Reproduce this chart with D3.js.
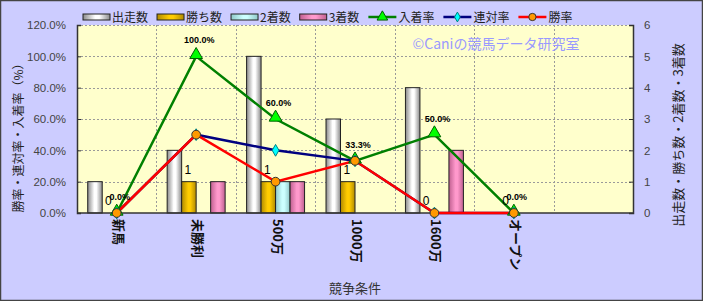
<!DOCTYPE html>
<html>
<head>
<meta charset="utf-8">
<script src="https://cdn.jsdelivr.net/npm/d3@7.9.0/dist/d3.min.js"></script>
<style>
  body { margin: 0; background: #fff; }
  svg { display: block; font-family: "Liberation Sans", "Noto Sans CJK JP", sans-serif; }
</style>
</head>
<body>
<svg id="chart" width="703" height="301"></svg>
<script>
// categories (last one is an empty slot, as in the original sheet)
const categories = ['新馬', '未勝利', '500万', '1000万', '1600万', 'オープン', ''];

// bar series (right axis, counts)
const barNames = ['出走数', '勝ち数', '2着数', '3着数'];
const starts = [1, 2, 5, 3, 4, 0];
const wins = [0, 1, 1, 1, 0, 0];
const seconds = [0, 0, 1, 0, 0, 0];
const thirds = [0, 1, 1, 0, 2, 0];

// line series (left axis, rates)
const lineNames = ['入着率', '連対率', '勝率'];
const showRate = [0, 1.0, 0.6, 0.333, 0.5, 0];
const placeRate = [0, 0.5, 0.4, 0.333, 0, 0];
const winRate = [0, 0.5, 0.2, 0.333, 0, 0];

const leftTicks = [0, 0.2, 0.4, 0.6, 0.8, 1.0, 1.2];
const rightTicks = [0, 1, 2, 3, 4, 5, 6];

const barSeries = [starts, wins, seconds, thirds];
const barStyle = [
  { id: 'gGray', edge: '#8a8a8a', mid: '#ffffff' },
  { id: 'gGold', edge: '#b08a00', mid: '#ffcc00' },
  { id: 'gCyan', edge: '#8fc8c8', mid: '#ccffff' },
  { id: 'gPink', edge: '#c06090', mid: '#ff99cc' }
];
const lineSeries = [showRate, placeRate, winRate];
const lineStyle = [
  { stroke: '#008000', fill: '#00ff00', marker: d3.symbolTriangle, size: 70, mstroke: '#006000' },
  { stroke: '#000080', fill: '#00ffff', marker: d3.symbolDiamond, size: 40, mstroke: '#008080' },
  { stroke: '#ff0000', fill: '#ff9900', marker: d3.symbolCircle, size: 60, mstroke: '#333' }
];

const W = 703, H = 301;
const plot = { left: 77, right: 633, top: 25, bottom: 213 };

const svg = d3.select('#chart');
const defs = svg.append('defs');

barStyle.forEach(s => {
  const g = defs.append('linearGradient').attr('id', s.id).attr('x1', 0).attr('x2', 1).attr('y1', 0).attr('y2', 0);
  g.append('stop').attr('offset', '0%').attr('stop-color', s.edge);
  g.append('stop').attr('offset', '45%').attr('stop-color', s.mid);
  g.append('stop').attr('offset', '60%').attr('stop-color', s.mid);
  g.append('stop').attr('offset', '100%').attr('stop-color', s.edge);
});

// outer background
svg.append('rect').attr('x', 0.5).attr('y', 0.5).attr('width', W - 1).attr('height', H - 1)
  .attr('fill', '#ccccff').attr('stroke', '#444').attr('stroke-width', 1.5);

const x = d3.scaleBand().domain(d3.range(categories.length)).range([plot.left, plot.right]);
const xb = d3.scaleBand().domain(d3.range(barNames.length)).range([0, x.bandwidth()])
  .paddingInner(0).paddingOuter(0.74);
const yL = d3.scaleLinear().domain([0, 1.2]).range([plot.bottom, plot.top]);
const yR = d3.scaleLinear().domain([0, 6]).range([plot.bottom, plot.top]);

// plot area
svg.append('rect').attr('x', plot.left).attr('y', plot.top)
  .attr('width', plot.right - plot.left).attr('height', plot.bottom - plot.top)
  .attr('fill', '#ffffcc');

// grid
const grid = svg.append('g').attr('stroke', '#9a9a9a').attr('stroke-dasharray', '2,2').attr('stroke-width', 1);
grid.selectAll('line.h').data(leftTicks.slice(1)).join('line')
  .attr('x1', plot.left).attr('x2', plot.right)
  .attr('y1', d => Math.round(yL(d)) + 0.5).attr('y2', d => Math.round(yL(d)) + 0.5);
grid.selectAll('line.v').data(d3.range(1, categories.length)).join('line')
  .attr('y1', plot.top).attr('y2', plot.bottom)
  .attr('x1', d => Math.round(x(d)) + 0.5).attr('x2', d => Math.round(x(d)) + 0.5);

// watermark
svg.append('text').attr('x', 496).attr('y', 49).attr('text-anchor', 'middle')
  .attr('fill', '#9999ff').attr('font-size', 14)
  .attr('font-family', '"Noto Sans CJK JP", sans-serif')
  .text('©Caniの競馬データ研究室');

// bars
barSeries.forEach((vals, si) => {
  svg.append('g').selectAll('rect').data(vals).join('rect')
    .attr('x', (d, i) => x(i) + xb(si))
    .attr('width', xb.bandwidth())
    .attr('y', d => yR(d))
    .attr('height', d => plot.bottom - yR(d))
    .attr('fill', `url(#${barStyle[si].id})`)
    .attr('stroke', '#222').attr('stroke-width', 1)
    .style('display', d => d > 0 ? null : 'none');
});

// axes
const axisL = svg.append('g').attr('transform', `translate(${plot.left},0)`)
  .call(d3.axisLeft(yL).tickValues(leftTicks).tickSize(-4).tickPadding(11)
    .tickFormat(d => d3.format('.1%')(d)));
const axisR = svg.append('g').attr('transform', `translate(${plot.right},0)`)
  .call(d3.axisRight(yR).tickValues(rightTicks).tickSize(-4).tickPadding(11).tickFormat(d3.format('d')));
[axisL, axisR].forEach(a => {
  a.select('.domain').attr('stroke', '#333').attr('stroke-width', 1.5);
  a.selectAll('.tick line').attr('stroke', '#333');
  a.selectAll('.tick text').attr('font-size', 11.5).attr('fill', '#444')
    .attr('font-family', '"Liberation Sans", sans-serif');
});
svg.append('line').attr('x1', plot.left).attr('x2', plot.right)
  .attr('y1', plot.bottom).attr('y2', plot.bottom).attr('stroke', '#333').attr('stroke-width', 1.5);

// category labels (rotated)
svg.append('g').selectAll('text').data(categories).join('text')
  .attr('transform', (d, i) => `translate(${x(i) + x.bandwidth() / 2 - 3},${plot.bottom + 6}) rotate(90)`)
  .attr('font-size', 13).attr('font-family', '"Noto Sans CJK JP", sans-serif')
  .attr('font-weight', 'bold').attr('fill', '#111')
  .text(d => d);

// lines
const lineGen = vals => d3.line().x((d, i) => x(i) + x.bandwidth() / 2).y(d => yL(d))(vals);
lineSeries.forEach((vals, si) => {
  const st = lineStyle[si];
  svg.append('path').attr('d', lineGen(vals)).attr('fill', 'none')
    .attr('stroke', st.stroke).attr('stroke-width', 2.5);
});
lineSeries.forEach((vals, si) => {
  const st = lineStyle[si];
  svg.append('g').selectAll('path').data(vals).join('path')
    .attr('transform', (d, i) => `translate(${x(i) + x.bandwidth() / 2},${yL(d) - (si === 0 ? 1.5 : 0)})`)
    .attr('d', d3.symbol().type(st.marker).size(st.size))
    .attr('fill', st.fill).attr('stroke', st.mstroke).attr('stroke-width', 1);
});

// data labels: wins count
svg.append('g').selectAll('text').data(wins).join('text')
  .attr('x', (d, i) => x(i) + xb(1) + xb.bandwidth() / 2 - 1)
  .attr('y', d => yR(d) - 8)
  .attr('text-anchor', 'middle').attr('font-size', 12).attr('fill', '#000')
  .text(d => d);

// data labels: show rate
svg.append('g').selectAll('text').data(showRate).join('text')
  .attr('x', (d, i) => x(i) + x.bandwidth() / 2 + 3)
  .attr('y', d => yL(d) - 13)
  .attr('text-anchor', 'middle').attr('font-size', 9).attr('font-weight', 'bold').attr('fill', '#000')
  .text(d => d3.format('.1%')(d));

// axis titles
svg.append('text').attr('transform', `translate(23,${(plot.top + plot.bottom) / 2 + 16}) rotate(-90)`)
  .attr('text-anchor', 'middle').attr('font-size', 12).attr('fill', '#222')
  .attr('font-family', '"Noto Sans CJK JP", sans-serif')
  .text('勝率・連対率・入着率（%）');
svg.append('text').attr('transform', `translate(683,${(plot.top + plot.bottom) / 2 + 16}) rotate(-90)`)
  .attr('text-anchor', 'middle').attr('font-size', 13).attr('fill', '#222')
  .attr('font-family', '"Noto Sans CJK JP", sans-serif')
  .text('出走数・勝ち数・2着数・3着数');
svg.append('text').attr('x', (plot.left + plot.right) / 2).attr('y', 293)
  .attr('text-anchor', 'middle').attr('font-size', 13).attr('fill', '#333')
  .attr('font-family', '"Noto Sans CJK JP", sans-serif')
  .text('競争条件');

// legend
const legend = svg.append('g').attr('font-family', '"Noto Sans CJK JP", sans-serif').attr('font-size', 12);
let lx = 83;
const ly = 17;
barNames.forEach((name, i) => {
  legend.append('rect').attr('x', lx).attr('y', ly - 3).attr('width', 27).attr('height', 6)
    .attr('fill', `url(#${barStyle[i].id})`).attr('stroke', '#222');
  const t = legend.append('text').attr('x', lx + 29).attr('y', ly + 5).attr('fill', '#222').text(name);
  lx += 29 + t.node().getComputedTextLength() + 9;
});
lineNames.forEach((name, i) => {
  const st = lineStyle[i];
  legend.append('line').attr('x1', lx).attr('x2', lx + 28).attr('y1', ly).attr('y2', ly)
    .attr('stroke', st.stroke).attr('stroke-width', 2.5);
  legend.append('path').attr('transform', `translate(${lx + 14},${ly})`)
    .attr('d', d3.symbol().type(st.marker).size(st.size * 0.7))
    .attr('fill', st.fill).attr('stroke', st.mstroke);
  const t = legend.append('text').attr('x', lx + 30).attr('y', ly + 5).attr('fill', '#222').text(name);
  lx += 30 + t.node().getComputedTextLength() + 9;
});
</script>
</body>
</html>
